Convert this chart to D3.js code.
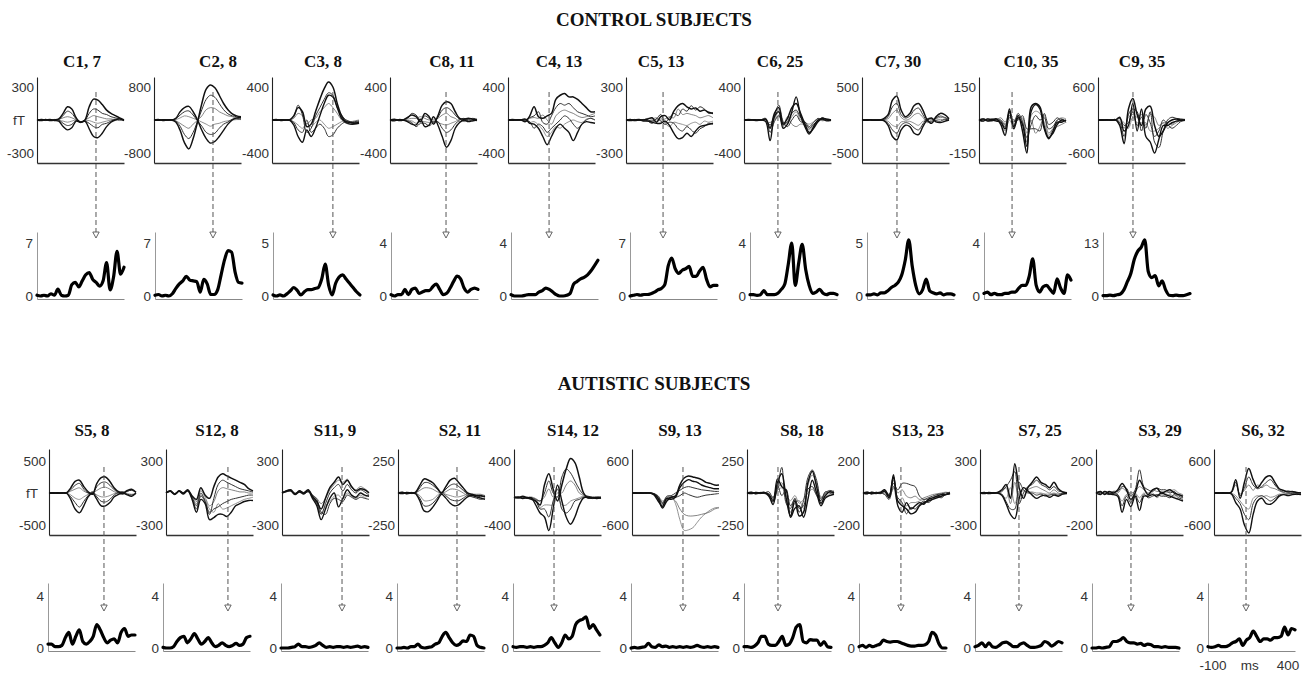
<!DOCTYPE html>
<html><head><meta charset="utf-8">
<script src="https://cdn.jsdelivr.net/npm/d3@7/dist/d3.min.js"></script>
<style>body{margin:0;background:#fff}svg{display:block}</style>
</head><body>
<svg id="chart" width="1307" height="673"></svg>
<script>
// ---------------- DATA ----------------
const fieldTimes = [-100,-75,-50,-25,0,25,50,75,100,125,150,175,200,225,250,275,300,325,350,375,400];
const strengthTimes = [-100,-80,-60,-40,-20,0,20,40,60,80,100,120,140,160,180,200,220,240,260,280,300,320,340,360,380,400];

const controlLabels = ["C1, 7","C2, 8","C3, 8","C8, 11","C4, 13","C5, 13","C6, 25","C7, 30","C10, 35","C9, 35"];
const controlFieldMax = [300,800,400,400,400,300,400,500,150,600];
const controlStrengthMax = [7,7,5,4,4,7,4,5,4,13];
const controlLatency = [239,239,250,222,136,113,95,101,90,101];

const controlFields = [
 [[0,-5,5,-5,0,10,60,120,100,20,-20,0,120,190,180,140,90,60,40,20,0],
  [0,5,0,5,-5,-10,-60,-90,-70,-10,-20,-10,-80,-150,-160,-120,-60,-20,0,10,-5],
  [0,0,-5,0,5,5,40,80,60,10,-15,-5,60,100,90,60,50,30,20,10,0],
  [0,0,5,-5,0,0,-30,-50,-40,-5,-15,-10,-30,-60,-70,-40,-30,-10,5,10,0],
  [0,5,0,0,0,5,20,30,20,0,-25,0,20,40,30,20,10,10,0,-5,0],
  [0,-5,0,5,-5,-5,-10,-20,-10,0,-20,-5,-5,-20,-30,-20,-10,0,10,0,5]],
 [[0,10,-10,0,0,-50,-250,-550,-700,-450,-50,400,750,850,780,600,400,250,150,100,80],
  [0,-10,10,0,0,40,200,300,330,200,0,-250,-450,-560,-520,-400,-250,-100,0,50,60],
  [0,0,5,-10,0,-30,-150,-350,-450,-300,-30,250,500,600,550,400,250,150,100,80,50],
  [0,5,0,10,0,30,120,200,220,120,-20,-150,-300,-350,-320,-200,-100,-50,20,30,20],
  [0,-5,0,0,0,-20,-80,-150,-200,-100,-10,100,250,300,280,200,150,100,80,40,30],
  [0,0,5,0,0,10,50,100,80,40,0,-50,-100,-150,-100,-80,-40,-20,0,10,10]],
 [[0,5,-5,0,0,50,150,100,-80,-50,100,250,380,460,400,200,50,-20,-30,-40,-30],
  [0,-5,5,0,0,-60,-200,-270,-120,-200,-100,50,200,300,280,150,20,-30,-50,-50,-40],
  [0,0,0,5,0,40,180,60,-150,-100,50,150,250,330,300,150,60,0,-20,-30,-20],
  [0,5,0,-5,0,-30,-120,-150,0,-150,-100,-50,-100,-200,-180,-100,-50,-20,-30,-20,-10],
  [0,0,5,0,0,20,80,50,-50,0,20,100,150,200,150,80,0,-40,-50,-30,-20],
  [0,-5,0,0,0,-20,-60,-100,-40,-80,-30,0,-50,-100,-80,-50,-20,0,-20,-10,0]],
 [[0,10,-5,0,30,60,40,-20,80,40,-50,50,180,220,200,100,20,10,20,10,0],
  [0,-10,5,0,-20,-50,-60,10,-80,-60,40,-60,-200,-330,-250,-100,-30,0,-20,-10,0],
  [0,5,0,5,20,80,60,0,50,20,-20,30,120,150,120,60,10,-10,10,20,10],
  [0,0,-5,-5,-10,-30,-80,-40,-40,-70,-30,-20,-100,-150,-120,-50,0,20,-10,0,-10],
  [0,-5,0,0,10,20,20,40,20,0,10,20,60,80,40,20,-20,0,10,-10,5],
  [0,5,0,0,-10,-10,-40,-20,-20,-30,-10,-30,-50,-60,-40,-20,10,-20,0,10,0]],
 [[0,5,0,0,-20,50,160,40,20,50,80,250,300,320,280,280,250,200,150,100,100],
  [0,-5,0,5,10,-40,-50,-100,-200,-300,-200,-100,-50,-100,-150,-250,-150,-50,-20,-30,-40],
  [0,0,5,0,0,30,50,100,-30,-50,50,150,200,180,200,150,100,80,60,40,50],
  [0,5,-5,0,0,-20,-100,-50,-80,-150,-100,-50,0,50,20,-50,-100,-50,0,20,0],
  [0,0,0,-5,5,20,30,20,60,0,-50,50,100,120,100,80,50,30,40,60,80],
  [0,-5,5,0,-5,-30,-20,-60,-120,-200,-150,-80,-100,-50,-20,0,-20,-30,10,20,0]],
 [[0,5,-5,0,0,10,20,-20,30,40,0,80,130,150,120,100,110,80,90,70,60],
  [0,-5,0,5,-10,-10,-20,-30,-30,-10,-50,-120,-170,-160,-120,-150,-100,-60,-50,-40,-30],
  [0,0,5,-5,5,0,-10,10,50,-20,20,60,40,100,80,130,90,120,100,60,70],
  [0,5,0,0,0,-10,-30,10,-10,-40,-20,-30,-80,-100,-60,-90,-120,-80,-60,-30,-40],
  [0,0,-5,5,0,15,10,20,0,10,30,20,100,50,60,50,40,20,30,40,20],
  [0,-5,5,0,-5,-5,0,-10,20,-30,-60,-20,-30,-40,-50,-30,-20,-40,-10,-20,-10]],
 [[0,5,0,-5,0,10,-100,80,150,-50,20,150,200,80,-50,-150,-100,-20,20,10,0],
  [0,-5,5,0,0,-20,-250,40,100,-100,-50,100,280,50,-80,-170,-80,0,10,-10,0],
  [0,0,-5,5,0,0,-60,60,180,-20,-80,0,60,-20,-40,-100,-50,-10,30,0,-10],
  [0,5,0,0,5,20,-150,-20,50,-60,-20,80,120,30,-20,-80,-30,20,0,10,5],
  [0,0,5,-5,0,-10,-30,20,100,-80,40,-50,-80,-50,-60,-120,-60,-20,10,-5,0],
  [0,-5,0,5,-5,10,-80,0,60,-30,-30,40,100,0,-30,-50,-20,10,-10,0,5]],
 [[0,5,0,-5,0,20,80,300,360,150,50,100,220,250,150,0,-50,50,100,80,20],
  [0,-5,5,0,0,-10,-80,-250,-300,-150,-80,-100,-200,-220,-100,0,30,-30,-40,-20,0],
  [0,0,-5,0,5,10,50,200,250,80,30,60,150,180,80,-20,-20,30,60,40,10],
  [0,5,0,5,-5,-10,-50,-150,-200,-80,-40,-60,-120,-150,-60,20,20,-10,-20,10,0],
  [0,0,5,0,0,5,20,100,150,40,0,20,80,100,40,-40,0,20,40,30,10],
  [0,-5,0,0,0,-5,-20,-80,-100,-30,-20,-20,-50,-80,-20,-10,10,0,10,0,-5]],
 [[0,5,-5,0,5,-20,-70,40,-30,20,-50,-150,60,75,60,-30,-80,-60,-20,0,-5],
  [0,-5,5,0,-5,-10,-40,50,-40,10,-20,-120,40,70,50,-40,-85,-50,-10,-10,0],
  [0,0,0,5,0,-5,-30,20,-10,30,-10,-80,-20,20,0,10,-40,-30,0,5,-10],
  [0,5,0,-5,5,0,-20,10,0,0,20,-40,-40,-40,-50,30,-20,-10,10,-5,0],
  [0,-5,5,0,0,10,-10,30,-20,10,10,-60,0,-60,-30,20,-60,-40,-30,-20,-10],
  [0,0,-5,5,0,-5,-50,0,-30,20,0,-100,20,40,30,-10,-70,-40,0,10,5]],
 [[0,5,0,-5,5,-100,-430,200,390,100,-100,200,250,-100,-300,-200,-50,0,20,0,0],
  [0,-5,5,0,0,50,-200,-100,300,-200,200,-300,-400,-600,-350,-100,-100,-50,-20,-10,0],
  [0,0,-5,5,0,-50,-300,100,200,150,-200,100,-50,-300,-200,0,-80,-150,-100,-30,-10],
  [0,5,0,0,-5,30,-100,-50,150,-100,50,-150,150,-400,-500,-200,0,50,30,20,10],
  [0,0,5,-5,0,-20,-150,50,100,50,100,-100,100,50,-100,-50,-150,-100,-50,0,10],
  [0,-5,0,5,0,20,-50,-150,50,-50,-50,-50,-200,-200,-150,-50,-50,-80,-20,-10,0]]
];

const controlStrength = [
 [0.1,0,0.1,0,0.3,0.1,0.9,0.1,0,0.1,1.5,1.8,1.2,2.0,2.8,3.1,2.2,1.8,1.3,2.0,4.4,0.8,2.5,5.9,2.9,3.8],
 [0.1,0.2,0,0.1,0,0.3,1.0,1.6,2.0,2.6,2.1,2.0,1.9,0.5,2.2,1.6,0.2,0.2,0.8,2.8,4.8,6.0,5.8,3.2,1.8,1.7],
 [0.1,0,0.1,0,0.2,0.5,0.8,0.5,0.1,0.4,0.6,0.6,0.7,0.8,1.6,3.0,1.0,0.1,1.2,1.8,2.0,1.6,1.2,0.8,0.4,0.1],
 [0.1,0,0.1,0.1,0.5,0.1,0.5,0.6,0.2,0.3,0.4,0.4,0.7,0.9,0.5,0.1,0.2,0.6,1.1,1.5,1.3,0.6,0.3,0.5,0.6,0.5],
 [0.1,0,0,0,0.05,0.1,0.1,0.1,0.3,0.4,0.6,0.5,0.3,0.1,0,0,0.05,0.2,0.9,1.1,1.3,1.4,1.6,1.9,2.3,2.7],
 [0,0.1,0.2,0.1,0.2,0.2,0.3,0.5,0.8,1.0,1.5,4.0,5.0,3.6,3.0,3.4,3.6,3.9,2.6,2.6,3.3,3.8,2.2,1.2,1.4,1.4],
 [0.1,0.1,0.05,0.1,0.4,0.1,0.1,0.1,0.2,0.5,0.9,2.4,4.0,0.8,2.5,3.9,2.0,0.8,0.2,0.3,0.5,0.2,0.1,0.2,0.2,0.1],
 [0.1,0.1,0.2,0.1,0.3,0.3,0.5,0.8,1.0,1.3,2.0,3.4,5.3,2.8,1.0,0.2,0.6,1.6,0.5,0.3,0.2,0.3,0.1,0.2,0.2,0.1],
 [0.2,0.3,0.1,0.2,0.1,0.1,0.2,0.2,0.3,0.3,0.6,0.8,0.8,1.5,2.8,0.8,0.3,0.7,0.8,0.5,0.2,1.3,0.6,0.2,1.6,1.2],
 [0.1,0.1,0.2,0.1,0.3,0.5,1.5,3.5,5.5,9.0,11.0,12.0,13.8,6.0,4.5,5.0,2.5,3.7,1.5,0.2,0.1,0.2,0.1,0.1,0.3,0.6]
];

const autisticLabels = ["S5, 8","S12, 8","S11, 9","S2, 11","S14, 12","S9, 13","S8, 18","S13, 23","S7, 25","S3, 29","S6, 32"];
const autisticFieldMax = [500,300,300,250,400,600,250,200,300,200,600];
const autisticStrengthMax = [4,4,4,4,4,4,4,4,4,4,4];
const autisticLatency = [216,256,245,239,130,193,78,118,124,101,84];

const autisticFields = [
 [[0,5,-5,0,0,80,180,200,100,20,-20,150,240,250,180,80,20,0,40,60,10],
  [0,-5,5,0,0,-100,-250,-310,-200,-60,0,-100,-200,-200,-150,-60,-20,0,-30,-50,0],
  [0,0,-5,5,0,50,120,150,60,0,-10,100,160,170,120,50,0,-20,30,40,20],
  [0,5,0,0,0,-60,-150,-220,-130,-40,20,-60,-130,-140,-100,-30,10,20,-20,-30,-10],
  [0,0,5,-5,0,30,60,80,30,0,0,40,80,90,60,20,-10,10,20,50,0],
  [0,-5,0,5,0,-30,-80,-100,-60,-20,10,-30,-60,-60,-40,-10,0,-10,-10,-20,-5]],
 [[0,20,-10,20,0,30,-30,-60,50,-20,-50,60,150,180,160,140,120,100,80,40,20],
  [0,15,-15,15,-10,20,-60,-180,-60,-100,-250,-230,-200,-200,-220,-180,-120,-100,-80,-70,-70],
  [0,20,-5,20,0,25,-40,-120,0,-80,-200,-50,80,120,100,80,60,40,30,20,10],
  [0,15,-10,15,-5,20,-50,-150,-30,-80,-180,-150,-130,-100,-80,-60,-50,-40,-30,-20,-20],
  [0,20,-5,20,0,20,-20,-80,20,-40,-120,-80,20,50,40,30,20,10,10,0,0],
  [0,15,-10,20,-5,25,-30,-100,-20,-60,-150,-180,-100,-150,-140,-120,-100,-80,-60,-50,-40]],
 [[0,20,30,-10,20,0,30,-30,-80,-150,-50,50,100,150,80,120,60,20,40,30,0],
  [0,15,20,-15,10,-10,20,-50,-120,-250,-150,-50,0,-130,-50,30,-20,-40,0,-20,-30],
  [0,20,25,-5,15,5,20,-40,-100,-200,-100,0,50,80,20,80,30,0,30,10,-20],
  [0,10,20,-10,20,-5,10,-20,-60,-180,-200,-100,-50,-60,-80,-20,-40,-60,-40,-50,-60],
  [0,20,30,0,10,0,25,-20,-50,-100,-50,30,80,120,100,130,50,30,60,40,10],
  [0,15,25,-10,15,-5,15,-30,-90,-200,-120,-80,-30,-20,-60,0,-30,-50,-20,-40,-20]],
 [[0,5,-5,0,5,60,110,100,80,40,0,50,100,115,80,40,0,-10,-20,-20,-30],
  [0,-5,5,0,-5,-60,-140,-145,-110,-60,-10,-40,-80,-100,-90,-60,-30,-20,-30,-40,-50],
  [0,0,-5,5,0,40,80,80,60,30,0,30,60,70,50,20,-10,-20,-20,-30,-20],
  [0,5,0,0,0,-40,-100,-100,-80,-40,0,-20,-50,-60,-60,-40,-20,-30,-40,-50,-40],
  [0,0,5,-5,0,20,40,40,30,10,0,10,30,30,20,0,-20,-10,-10,-10,-20],
  [0,-5,0,5,0,-20,-60,-60,-50,-20,10,-10,-20,-30,-30,-20,-10,-10,-20,-30,-30]],
 [[-50,-60,-40,-60,-80,-100,-150,100,240,50,-100,100,300,430,380,200,0,-60,-60,-60,-60],
  [-60,-50,-70,-60,-60,-150,-250,-300,-470,-200,100,-100,-300,-390,-300,-150,-60,-50,-60,-70,-60],
  [-60,-60,-50,-70,-60,-80,-100,0,150,0,-50,200,300,250,150,50,-20,-40,-50,-50,-50],
  [-50,-60,-60,-50,-70,-100,-200,-200,-300,-100,50,-200,-250,-200,-100,-80,-50,-60,-70,-60,-70],
  [-60,-50,-60,-60,-50,-70,-100,-50,50,-50,0,0,100,150,100,0,-30,-50,-60,-50,-50],
  [-50,-60,-50,-60,-60,-90,-180,-150,-150,-150,-50,-150,-150,-100,-80,-60,-40,-70,-60,-70,-60]],
 [[0,5,-5,0,0,-20,-100,-280,-150,-80,-50,150,280,320,300,280,250,200,180,150,150],
  [0,-5,5,0,0,-30,-150,-250,-100,-120,-80,100,200,250,220,200,150,120,100,80,80],
  [0,0,-5,5,0,-10,-80,-200,-60,-50,0,50,100,120,100,80,60,50,40,30,30],
  [0,-5,0,5,0,-10,-60,-180,-100,-80,-80,-50,0,-30,-60,-80,-60,-40,-30,-20,-10],
  [0,5,0,-5,0,-20,-120,-220,-120,-100,-150,-300,-400,-430,-430,-420,-400,-380,-350,-300,-280],
  [0,0,5,0,0,-10,-50,-150,-80,-60,-200,-500,-700,-690,-650,-550,-450,-380,-320,-280,-270]],
 [[0,5,-5,0,5,-20,-90,80,150,-40,-180,-60,-180,-150,80,170,50,-80,-20,10,0],
  [0,-5,5,0,0,-10,-60,110,50,20,-190,-120,-100,-190,-50,100,0,-100,-40,-20,-10],
  [0,0,-5,5,0,-30,-70,40,200,-80,-120,-40,-150,-60,120,180,100,-50,0,20,10],
  [0,5,0,-5,0,10,-40,60,-20,30,-100,-50,-120,-100,30,50,-20,-60,10,0,0],
  [0,-5,5,0,-5,-15,-50,30,80,-50,-150,-80,-60,-120,60,140,80,-30,-30,-10,20],
  [0,0,-5,0,5,-5,-30,20,40,-20,-60,-20,-80,-50,0,30,-10,-40,0,10,-10]],
 [[0,5,-5,0,5,20,-20,100,-50,-80,-100,-130,-120,-80,-60,-50,-40,-30,-20,-10,0],
  [0,-5,5,0,0,10,-30,115,-80,-120,-60,-100,-80,-60,-70,-40,-30,-20,-10,-10,-5],
  [0,0,-5,5,0,15,-10,60,20,60,60,50,40,-20,-40,-30,-20,-10,-5,0,5],
  [0,5,0,-5,0,-10,-40,40,-30,-60,-130,-90,-100,-70,-50,-60,-40,-20,-30,-10,0],
  [0,-5,5,0,-5,5,-20,80,0,20,-20,-30,-20,-40,-30,-20,-10,-5,0,5,0],
  [0,0,-5,5,0,-5,-30,30,-60,-30,-80,-60,-60,-50,-40,-40,-30,-20,-20,-10,-5]],
 [[0,5,-5,0,5,30,80,-50,275,50,-50,50,100,150,100,80,50,100,40,10,0],
  [0,-5,5,0,0,-20,-100,-200,-240,-50,50,20,-20,-50,-30,-20,-40,-20,-30,-10,-5],
  [0,0,-5,5,0,20,60,120,200,-100,0,60,80,120,80,60,30,60,20,10,5],
  [0,5,0,-5,0,-10,-80,-150,-150,100,30,0,0,-20,-10,-30,-20,-10,-20,0,0],
  [0,-5,5,0,0,10,50,-100,100,-50,-30,30,50,60,40,20,0,30,0,-10,0],
  [0,0,-5,5,0,-15,-50,50,-100,0,20,10,10,0,0,-10,-10,0,-10,0,5]],
 [[0,10,-10,10,0,20,60,20,-40,0,80,30,-10,20,30,0,10,20,0,-10,-20],
  [0,-10,10,-5,-10,-20,-120,-40,-85,-20,-110,-20,-20,-10,-20,0,-10,-20,-30,-40,-50],
  [0,5,0,-10,10,10,40,30,-20,20,145,40,20,10,30,20,20,0,10,-20,-30],
  [10,-5,10,0,-5,-10,-80,-20,-60,-10,-60,-10,-30,-20,-10,-20,-20,-30,-10,-30,-40],
  [0,10,-5,5,5,0,30,10,0,10,40,20,0,20,10,10,0,10,20,0,-10],
  [-5,0,5,-10,0,-10,-50,-10,-40,0,-30,0,-20,0,-30,-10,-20,-10,-20,-10,-30]],
 [[0,5,-5,0,20,250,-100,200,460,250,100,200,300,320,200,80,50,20,30,10,0],
  [0,-5,5,0,-20,-180,-300,-600,-750,-400,-150,-100,-200,-210,-150,-60,-30,-50,-30,-20,-30],
  [0,0,-5,5,10,200,-50,100,300,150,80,120,200,250,150,60,20,40,20,10,10],
  [0,5,0,-5,-10,-100,-200,-400,-500,-200,-80,-50,-100,-150,-100,-40,-20,-20,-10,-30,-20],
  [0,-5,5,0,5,150,-20,50,150,50,150,100,150,100,80,40,10,30,10,0,10],
  [0,0,-5,5,-5,-50,-150,-250,-300,-100,-50,-80,-50,-80,-60,-20,-30,-10,-20,-10,-20]]
];

const autisticStrength = [
 [0.3,0.3,0.1,0.1,0.2,0.8,1.2,0.3,0.9,1.4,0.5,0.3,0.5,0.9,1.8,1.4,0.8,0.4,0.6,0.7,0.4,1.2,1.5,0.9,1.0,1.0],
 [0.05,0,0,0.1,0.5,0.8,0.9,0.4,0.7,1.1,0.7,0.3,0.5,0.8,0.4,0.1,0.2,0.4,0.2,0.1,0.2,0.35,0.2,0.3,0.8,0.9],
 [0,0,0,0.05,0.1,0.3,0.1,0.1,0.05,0.1,0.2,0.4,0.2,0.05,0.1,0.05,0.1,0.1,0.05,0.1,0.05,0.1,0.15,0.05,0.1,0.05],
 [0,0,0.05,0,0.1,0.1,0.3,0.05,0,0.05,0.1,0.3,0.4,0.9,1.2,0.8,0.4,0.2,0.3,0.55,0.5,1.0,0.9,0.2,0.05,0],
 [0.1,0.05,0.1,0.1,0.05,0.1,0.05,0.1,0.1,0.2,0.4,0.8,0.4,0.05,0.4,1.0,0.7,0.9,1.8,2.1,2.2,2.4,1.5,1.8,1.4,1.0],
 [0,0.05,0,0.05,0.1,0.35,0.1,0.05,0.25,0.1,0.15,0.05,0.1,0.05,0.1,0.05,0.1,0.05,0.1,0.2,0.1,0.05,0.1,0.05,0.1,0.05],
 [0.1,0.1,0.05,0.15,0.4,0.9,0.9,0.3,0.2,0.2,0.5,0.9,0.2,0.3,0.8,1.6,1.8,0.5,0.4,0.65,0.6,0.6,0.2,0.5,0.1,0.05],
 [0.1,0.2,0.05,0.2,0.1,0.2,0.3,0.6,0.5,0.45,0.5,0.5,0.4,0.3,0.2,0.15,0.15,0.2,0.2,0.25,0.5,1.2,1.0,0.3,0,0],
 [0.1,0.2,0.4,0.1,0.4,0.1,0.05,0.2,0.4,0.45,0.3,0.1,0.1,0.3,0.4,0.2,0.05,0.05,0.1,0.2,0.5,0.4,0.15,0.3,0.5,0.4],
 [0,0,0.05,0,0.05,0.1,0.5,0.5,0.6,0.8,0.5,0.4,0.4,0.3,0.35,0.2,0.3,0.25,0.1,0.1,0.05,0.1,0.05,0.05,0.05,0],
 [0.1,0.05,0.1,0.2,0.1,0.1,0.2,0.4,0.5,0.7,0.2,0.6,0.8,1.3,0.9,0.5,0.7,0.7,0.6,0.8,0.8,0.9,1.6,1.0,1.5,1.4]
];

// ---------------- LAYOUT ----------------
const W = 87;
const rows = [
 { heading:"CONTROL SUBJECTS", headingY:26,
   labels:controlLabels, fieldMax:controlFieldMax, strengthMax:controlStrengthMax,
   latency:controlLatency, fields:controlFields, strength:controlStrength,
   axisX:[37,154,272,390,508,626,744,862,979,1098],
   lowerX:[37,155,273,391,511,630,750,867,984,1103],
   titleDx:[45,64,51,62,51,35,36,36,52,44], titleY:67,
   top:77, bottom:163, zero:120, tick:33, fTx:19,
   dashTop:92, arrowY:238,
   lowTop:232, lowBottom:299, lowZero:296, lowMax:243 },
 { heading:"AUTISTIC SUBJECTS", headingY:390,
   labels:autisticLabels, fieldMax:autisticFieldMax, strengthMax:autisticStrengthMax,
   latency:autisticLatency, fields:autisticFields, strength:autisticStrength,
   axisX:[49,166,282,398,514,632,747,863,980,1096,1214],
   lowerX:[48,163,281,397,513,631,744,859,975,1092,1208],
   titleDx:[43,51,53,62,59,48,55,55,60,64,49], titleY:436,
   top:449, bottom:535, zero:493, tick:32, fTx:32,
   dashTop:467, arrowY:611,
   lowTop:583, lowBottom:651, lowZero:648, lowMax:596 }
];

const svg = d3.select("#chart");
const tickFont = "'Liberation Sans', Arial, sans-serif";
const serif = "'Liberation Serif', 'Times New Roman', serif";
const plain = d => String(d);
const traceStyle = [
  {c:"#111", w:1.5},{c:"#111", w:1.4},{c:"#333", w:1.0},{c:"#333", w:1.0},{c:"#666", w:0.8},{c:"#777", w:0.8}
];

rows.forEach(row => {
  svg.append("text").attr("x", 654).attr("y", row.headingY)
    .attr("text-anchor","middle").attr("font-family", serif)
    .attr("font-weight","bold").attr("font-size", 19).attr("fill","#111")
    .text(row.heading);

  row.labels.forEach((lab, i) => {
    const ax = row.axisX[i], lx = row.lowerX[i];
    const g = svg.append("g");
    g.append("text").attr("x", ax + row.titleDx[i]).attr("y", row.titleY)
      .attr("text-anchor","middle").attr("font-family", serif)
      .attr("font-weight","bold").attr("font-size", 17).attr("fill","#111").text(lab);

    // ---- field (butterfly) panel ----
    const x = d3.scaleLinear().domain([-100, 400]).range([ax, ax + W]);
    const m = row.fieldMax[i];
    const y = d3.scaleLinear().domain([-m, m]).range([row.zero + row.tick, row.zero - row.tick]);
    const yAxisScale = d3.scaleLinear()
      .domain([y.invert(row.bottom), y.invert(row.top)]).range([row.bottom, row.top]);

    const yAx = g.append("g").attr("transform", `translate(${ax},0)`)
      .call(d3.axisLeft(yAxisScale).tickValues([-m, m]).tickFormat(plain)
        .tickSizeInner(0).tickSizeOuter(0).tickPadding(3));
    yAx.select(".domain").attr("stroke","#222").attr("stroke-width",1.1);
    yAx.selectAll("text").attr("font-family", tickFont).attr("font-size", 13.5).attr("fill","#333");

    const xAx = g.append("g").attr("transform", `translate(0,${row.bottom})`)
      .call(d3.axisBottom(x).tickValues([]).tickSizeOuter(0));
    xAx.select(".domain").attr("stroke","#333").attr("stroke-width",1.3);

    if (i === 0) {
      g.append("text").attr("x", row.fTx).attr("y", row.zero + 5)
        .attr("text-anchor","middle").attr("font-family", tickFont)
        .attr("font-size", 13.5).attr("fill","#333").text("fT");
    }

    const line = d3.line().x((d, k) => x(fieldTimes[k])).y(d => y(d)).curve(d3.curveCatmullRom.alpha(0.5));
    row.fields[i].slice().reverse().forEach((tr, kk) => {
      const k = row.fields[i].length - 1 - kk;
      g.append("path").datum(tr).attr("d", line).attr("fill","none")
        .attr("stroke", traceStyle[k].c).attr("stroke-width", traceStyle[k].w)
        .attr("stroke-linejoin","round");
    });

    // dashed latency line + arrow
    const dx = x(row.latency[i]);
    g.append("line").attr("x1", dx).attr("x2", dx).attr("y1", row.dashTop).attr("y2", row.arrowY - 6)
      .attr("stroke","#555").attr("stroke-width",1).attr("stroke-dasharray","5,3");
    g.append("path")
      .attr("d", `M${dx-3.2},${row.arrowY-6}L${dx+3.2},${row.arrowY-6}L${dx},${row.arrowY}Z`)
      .attr("fill","#fff").attr("stroke","#555").attr("stroke-width",0.9);

    // ---- strength panel ----
    const x2 = d3.scaleLinear().domain([-100, 400]).range([lx, lx + W]);
    const sm = row.strengthMax[i];
    const y2 = d3.scaleLinear().domain([0, sm]).range([row.lowZero, row.lowMax]);
    const y2Axis = d3.scaleLinear().domain([y2.invert(row.lowBottom), y2.invert(row.lowTop)])
      .range([row.lowBottom, row.lowTop]);
    const y2Ax = g.append("g").attr("transform", `translate(${lx},0)`)
      .call(d3.axisLeft(y2Axis).tickValues([0, sm]).tickFormat(plain)
        .tickSizeInner(0).tickSizeOuter(0).tickPadding(4));
    y2Ax.select(".domain").attr("stroke","#999").attr("stroke-width",1);
    y2Ax.selectAll("text").attr("font-family", tickFont).attr("font-size", 13.5).attr("fill","#333");
    const x2Ax = g.append("g").attr("transform", `translate(0,${row.lowBottom})`)
      .call(d3.axisBottom(x2).tickValues([]).tickSizeOuter(0));
    x2Ax.select(".domain").attr("stroke","#888").attr("stroke-width",1);

    const line2 = d3.line().x((d, k) => x2(strengthTimes[k])).y(d => y2(d)).curve(d3.curveMonotoneX);
    g.append("path").datum(row.strength[i]).attr("d", line2).attr("fill","none")
      .attr("stroke","#000").attr("stroke-width",3.2).attr("stroke-linejoin","round").attr("stroke-linecap","round");

    if (row.heading === "AUTISTIC SUBJECTS" && i === row.labels.length - 1) {
      const ty = 670;
      [["-100", x2(-100) + 5], ["ms", x2(140)], ["400", x2(400) - 7]].forEach(([t, px]) => {
        svg.append("text").attr("x", px).attr("y", ty).attr("text-anchor","middle")
          .attr("font-family", tickFont).attr("font-size", 13.5).attr("fill","#333").text(t);
      });
    }
  });
});
</script>
</body></html>
